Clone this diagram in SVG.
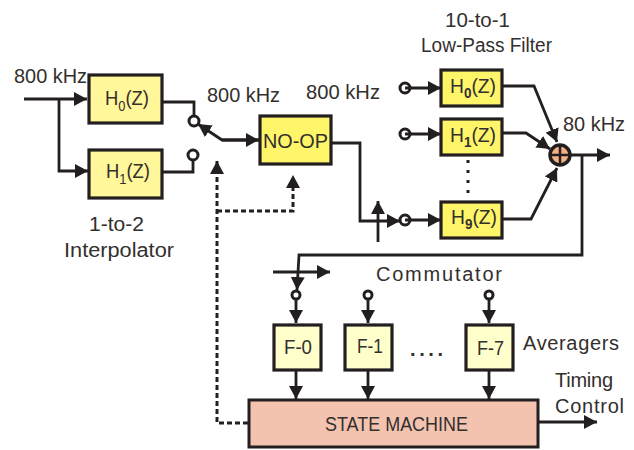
<svg xmlns="http://www.w3.org/2000/svg" width="634" height="450" viewBox="0 0 634 450">
<style>
text{font-family:"Liberation Sans",Arial,sans-serif;font-size:20px;fill:#332f2d}
.b{stroke:#231f20;stroke-width:3.2;fill:#fff799}
.y{fill:#fff568}
.f{fill:#ffffcc}
.c{fill:none;stroke:#231f20;stroke-width:2.8}
.d{fill:none;stroke:#231f20;stroke-width:3;stroke-dasharray:5 3}
.o{fill:#fff;stroke:#231f20;stroke-width:3}
.s{font-size:14px;font-weight:bold}
.u{font-size:14px}
</style>
<defs>
<marker id="a" markerUnits="userSpaceOnUse" markerWidth="14" markerHeight="14" refX="13" refY="7" orient="auto"><path d="M0 0L13 7L0 14Z" fill="#231f20"/></marker>
</defs>
<rect width="634" height="450" fill="#fff"/>
<g id="t0"><circle class="o" cx="405" cy="88" r="5"/></g>
<g id="t1"><circle class="o" cx="405" cy="134" r="5"/></g>
<g id="t9"><circle class="o" cx="405" cy="220" r="5"/></g>
<g id="connectors">
<path class="c" d="M24 99H87" marker-end="url(#a)"/>
<path class="c" d="M59 99V171H88" marker-end="url(#a)"/>
<path class="c" d="M162 102H194V117"/>
<path class="c" d="M162 172H193V159"/>
<path class="c" d="M259 140H222L198 124" marker-end="url(#a)"/>
<path class="c" d="M222 140H259" marker-end="url(#a)"/>
<path class="d" d="M248 423H217V161" marker-end="url(#a)"/>
<path class="d" d="M217 211H293V175" marker-end="url(#a)"/>
<path class="c" d="M331 143H360V221H400" marker-end="url(#a)"/>
<path class="c" d="M378 242V201" marker-end="url(#a)"/>
<path class="c" d="M405 88H441" marker-end="url(#a)"/>
<path class="c" d="M405 134H441" marker-end="url(#a)"/>
<path class="c" d="M405 220H441" marker-end="url(#a)"/>
<path class="c" d="M502 86H534L557 142" marker-end="url(#a)"/>
<path class="c" d="M503 133H526L550 149" marker-end="url(#a)"/>
<path class="c" d="M503 219H531L557 168" marker-end="url(#a)"/>
<path class="c" d="M570 155H610" marker-end="url(#a)"/>
<path class="c" d="M582 155V255H299L297 290" marker-end="url(#a)"/>
<path class="c" d="M273 272H330" stroke-width="2.2" marker-end="url(#a)"/>
<path class="c" d="M296 300V323" marker-end="url(#a)"/>
<path class="c" d="M368 300V323" marker-end="url(#a)"/>
<path class="c" d="M489 300V323" marker-end="url(#a)"/>
<path class="c" d="M296 370V399" marker-end="url(#a)"/>
<path class="c" d="M368 370V399" marker-end="url(#a)"/>
<path class="c" d="M489 370V399" marker-end="url(#a)"/>
<path class="c" d="M538 422H597" marker-end="url(#a)"/>
<path d="M468 160V197" fill="none" stroke="#231f20" stroke-width="3" stroke-dasharray="3 7"/>
</g>
<g id="sw0"><circle class="o" cx="194" cy="121" r="5"/></g>
<g id="sw1"><circle class="o" cx="193" cy="155" r="5"/></g>
<g id="c0"><circle class="o" cx="296" cy="295" r="4"/></g>
<g id="c1"><circle class="o" cx="368" cy="295" r="4"/></g>
<g id="c7"><circle class="o" cx="489" cy="295" r="4"/></g>
<g id="interp-h0"><rect class="b" x="89" y="75" width="73" height="48"/><text x="105" y="105" textLength="44" lengthAdjust="spacingAndGlyphs">H<tspan class="u" dy="6">0</tspan><tspan dy="-6">(Z)</tspan></text></g>
<g id="interp-h1"><rect class="b" x="89" y="150" width="73" height="48"/><text x="106" y="178" textLength="44" lengthAdjust="spacingAndGlyphs">H<tspan class="u" dy="6">1</tspan><tspan dy="-6">(Z)</tspan></text></g>
<g id="noop"><rect class="b y" x="260" y="116" width="71" height="48"/><text x="263" y="148" font-size="21" style="font-size:21px" textLength="65" lengthAdjust="spacingAndGlyphs">NO-OP</text></g>
<g id="lpf-h0"><rect class="b y" x="441" y="70" width="61" height="36"/><text x="450" y="93" textLength="46" lengthAdjust="spacingAndGlyphs">H<tspan class="s" dy="5">0</tspan><tspan dy="-5">(Z)</tspan></text></g>
<g id="lpf-h1"><rect class="b y" x="441" y="119" width="61" height="36"/><text x="450" y="142" textLength="46" lengthAdjust="spacingAndGlyphs">H<tspan class="s" dy="5">1</tspan><tspan dy="-5">(Z)</tspan></text></g>
<g id="lpf-h9"><rect class="b y" x="441" y="202" width="61" height="36"/><text x="451" y="224" textLength="46" lengthAdjust="spacingAndGlyphs">H<tspan class="s" dy="5">9</tspan><tspan dy="-5">(Z)</tspan></text></g>
<g id="sum"><circle cx="560" cy="155" r="10" fill="#f4b183" stroke="#231f20" stroke-width="3.5"/><path d="M550 155H570M560 145V165" stroke="#231f20" stroke-width="2.5"/></g>
<g id="f0"><rect class="b f" x="274" y="325" width="47" height="45"/><text x="284" y="354" textLength="28" lengthAdjust="spacingAndGlyphs">F-0</text></g>
<g id="f1"><rect class="b f" x="345" y="325" width="47" height="45"/><text x="357" y="353" textLength="26" lengthAdjust="spacingAndGlyphs">F-1</text></g>
<g id="f7"><rect class="b f" x="466" y="325" width="47" height="45"/><text x="477" y="355" textLength="27" lengthAdjust="spacingAndGlyphs">F-7</text></g>
<g id="state"><rect x="249" y="400" width="289" height="47" fill="#f4c3b0" stroke="#231f20" stroke-width="3"/><text x="325" y="431" textLength="143" lengthAdjust="spacingAndGlyphs">STATE MACHINE</text></g>
<g lengthAdjust="spacingAndGlyphs">
<text x="14" y="83" textLength="73" lengthAdjust="spacingAndGlyphs">800 kHz</text>
<text x="207" y="102" textLength="73" lengthAdjust="spacingAndGlyphs">800 kHz</text>
<text x="306" y="99" textLength="74" lengthAdjust="spacingAndGlyphs">800 kHz</text>
<text x="445" y="27" textLength="65" lengthAdjust="spacingAndGlyphs">10-to-1</text>
<text x="421" y="52" textLength="131" lengthAdjust="spacingAndGlyphs">Low-Pass Filter</text>
<text x="563" y="131" textLength="62" lengthAdjust="spacingAndGlyphs">80 kHz</text>
<text x="89" y="231" textLength="55" lengthAdjust="spacingAndGlyphs">1-to-2</text>
<text x="64" y="257" textLength="110" lengthAdjust="spacingAndGlyphs">Interpolator</text>
<text x="376" y="281" textLength="126">Commutator</text>
<text x="523" y="350" textLength="96">Averagers</text>
<text x="410" y="356" textLength="33" font-weight="bold">....</text>
<text x="555" y="387" textLength="58">Timing</text>
<text x="555" y="413" textLength="69">Control</text>
</g>
</svg>
